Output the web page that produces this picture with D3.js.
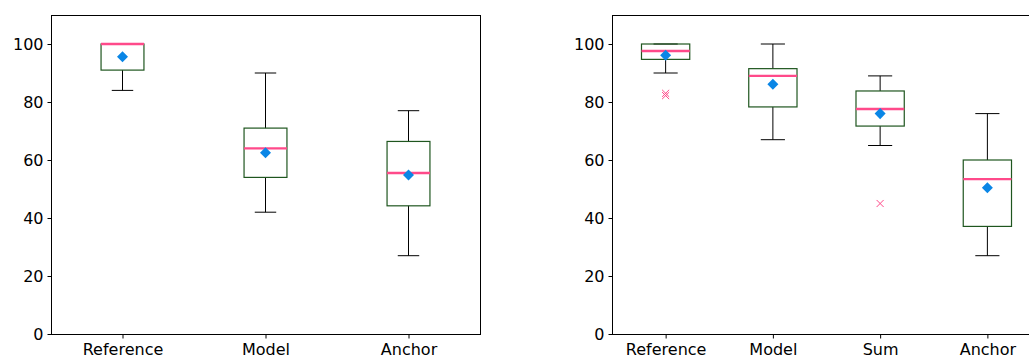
<!DOCTYPE html>
<html>
<head>
<meta charset="UTF-8">
<script src="https://d3js.org/d3.v7.min.js"></script>
<style>
  body { margin: 0; background: #fff; }
  svg { display: block; font-family: "DejaVu Sans", sans-serif; }
</style>
</head>
<body>
<svg width="1029" height="358"></svg>
<script>
// left panel
const leftCats = ["Reference", "Model", "Anchor"];
const leftStats = [
  // [low whisker, q1, median, q3, high whisker, mean]
  [84, 91, 100, 100, 100, 95.6],
  [42, 54, 64, 71, 90, 62.5],
  [27, 44.2, 55.5, 66.4, 77, 54.8]
];
const leftOutliers = [[], [], []];

// right panel
const rightCats = ["Reference", "Model", "Sum", "Anchor"];
const rightStats = [
  [90, 94.7, 97.6, 100, 100, 96.1],
  [67, 78.3, 89, 91.5, 100, 86.1],
  [65, 71.7, 77.6, 83.8, 89, 76],
  [27, 37.1, 53.4, 60, 76, 50.4]
];
const rightOutliers = [[82.2, 83], [], [45], []];

const yTicks = [0, 20, 40, 60, 80, 100];

const boxColor = "#1f561f";
const medianColor = "#ff4a8a";
const meanColor = "#0a86e6";

const svg = d3.select("svg");

function drawPanel(opts) {
  const { x0, x1, top, bottom, cats, stats, outliers, boxFrac } = opts;
  const g = svg.append("g");

  const x = d3.scaleLinear().domain([0.5, cats.length + 0.5]).range([x0, x1]);
  const y = d3.scaleLinear().domain([0, 110]).range([bottom, top]);
  const step = x(2) - x(1);
  const bw = step * boxFrac;
  const cw = bw / 2;

  // frame (right panel runs off the page)
  g.append("rect")
    .attr("x", x0 + 0.5).attr("y", top + 0.5)
    .attr("width", x1 - x0).attr("height", bottom - top)
    .attr("fill", "none").attr("stroke", "#000").attr("stroke-width", 1);

  const box = g.selectAll(".box")
    .data(stats)
    .enter().append("g")
    .attr("class", "box");

  const cx = (d, i) => x(i + 1);

  // whiskers
  box.append("line")
    .attr("x1", cx).attr("x2", cx)
    .attr("y1", d => y(d[0])).attr("y2", d => y(d[1]))
    .attr("stroke", "#000");
  box.append("line")
    .attr("x1", cx).attr("x2", cx)
    .attr("y1", d => y(d[3])).attr("y2", d => y(d[4]))
    .attr("stroke", "#000");
  // caps
  box.append("line")
    .attr("x1", (d, i) => cx(d, i) - cw / 2).attr("x2", (d, i) => cx(d, i) + cw / 2)
    .attr("y1", d => y(d[0])).attr("y2", d => y(d[0]))
    .attr("stroke", "#000");
  box.append("line")
    .attr("x1", (d, i) => cx(d, i) - cw / 2).attr("x2", (d, i) => cx(d, i) + cw / 2)
    .attr("y1", d => y(d[4])).attr("y2", d => y(d[4]))
    .attr("stroke", "#000");

  // boxes
  box.append("rect")
    .attr("x", (d, i) => cx(d, i) - bw / 2)
    .attr("width", bw)
    .attr("y", d => y(d[3]))
    .attr("height", d => y(d[1]) - y(d[3]))
    .attr("fill", "none")
    .attr("stroke", boxColor)
    .attr("stroke-width", 1.2);

  // medians
  box.append("line")
    .attr("x1", (d, i) => cx(d, i) - bw / 2).attr("x2", (d, i) => cx(d, i) + bw / 2)
    .attr("y1", d => y(d[2])).attr("y2", d => y(d[2]))
    .attr("stroke", medianColor)
    .attr("stroke-width", 2.4);

  // means
  box.append("path")
    .attr("d", d3.symbol().type(d3.symbolDiamond2).size(78))
    .attr("transform", (d, i) => `translate(${cx(d, i)},${y(d[5])})`)
    .attr("fill", meanColor);

  // outliers
  outliers.forEach((vals, i) => {
    g.selectAll(null)
      .data(vals)
      .enter().append("path")
      .attr("d", d3.symbol().type(d3.symbolTimes).size(34))
      .attr("transform", v => `translate(${x(i + 1)},${y(v)})`)
      .attr("fill", "none")
      .attr("stroke", medianColor)
      .attr("stroke-width", 1);
  });

  // axes
  const yAxis = d3.axisLeft(y).tickValues(yTicks).tickSize(4).tickPadding(4);
  const ya = g.append("g")
    .attr("transform", `translate(${x0 + 0.5},0)`)
    .call(yAxis);
  ya.select(".domain").remove();

  const xAxis = d3.axisBottom(x).tickValues(cats.map((c, i) => i + 1))
    .tickFormat((d, i) => cats[i]).tickSize(4).tickPadding(5);
  const xa = g.append("g")
    .attr("transform", `translate(0,${bottom + 0.5})`)
    .call(xAxis);
  xa.select(".domain").remove();

  g.selectAll(".tick text")
    .attr("font-size", 16)
    .attr("font-family", "DejaVu Sans, sans-serif")
    .attr("fill", "#000");
  g.selectAll(".tick line").attr("stroke", "#000");
}

drawPanel({
  x0: 51, x1: 480, top: 15, bottom: 334,
  cats: leftCats, stats: leftStats, outliers: leftOutliers, boxFrac: 0.3
});

drawPanel({
  x0: 612, x1: 1041, top: 15, bottom: 334,
  cats: rightCats, stats: rightStats, outliers: rightOutliers, boxFrac: 0.45
});
</script>
</body>
</html>
